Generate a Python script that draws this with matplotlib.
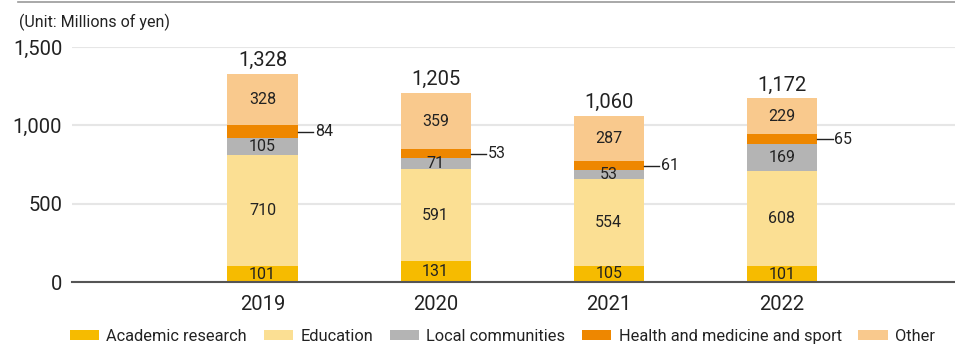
import matplotlib
matplotlib.use("Agg")
import matplotlib.pyplot as plt
from matplotlib.lines import Line2D
import numpy as np

plt.rcParams['font.family'] = ['Roboto', 'DejaVu Sans']

years = ["2019", "2020", "2021", "2022"]
series_names = ["Academic research", "Education", "Local communities",
                "Health and medicine and sport", "Other"]
academic = [101, 131, 105, 101]
education = [710, 591, 554, 608]
local = [105, 71, 53, 169]
health = [84, 53, 61, 65]
other = [328, 359, 287, 229]
totals = [1328, 1205, 1060, 1172]
colors = ["#F6BB00", "#FBDF93", "#B4B4B4", "#EE8700", "#F9C98D"]

series = [academic, education, local, health, other]

fig = plt.figure(figsize=(9.55, 3.45), dpi=100)
ax = fig.add_axes([0.0754, 0.1826, 0.9246, 0.6812])

x = np.arange(len(years))
width = 0.405
bottom = np.zeros(len(years))
text_col = "#222222"
for name, vals, col in zip(series_names, series, colors):
    vals = np.array(vals, dtype=float)
    ax.bar(x, vals, width, bottom=bottom, color=col, label=name, zorder=3)
    for i, v in enumerate(vals):
        yc = bottom[i] + v / 2
        if name == "Health and medicine and sport":
            xe = x[i] + width / 2
            ax.plot([xe, xe + 0.09], [yc, yc], color=text_col, lw=1.0,
                    zorder=4, clip_on=False)
            ax.text(xe + 0.1, yc, f"{int(v)}", ha="left", va="center",
                    fontsize=11.5, color=text_col)
        else:
            ax.text(x[i], yc, f"{int(v)}", ha="center", va="center",
                    fontsize=11.5, color=text_col, zorder=5)
    bottom += vals

for i, t in enumerate(totals):
    ax.text(x[i], bottom[i] + 25, f"{t:,}", ha="center", va="bottom",
            fontsize=14.5, color=text_col)

ax.set_xlim(-1.1, 4.0)
ax.set_ylim(0, 1500)
ax.set_yticks([0, 500, 1000, 1500])
ax.set_yticklabels(["0", "500", "1,000", "1,500"])
ax.set_xticks(x)
ax.set_xticklabels(years)
ax.tick_params(axis="both", length=0, labelsize=14.5, colors=text_col)
ax.tick_params(axis="y", pad=7)
ax.tick_params(axis="x", pad=9)
ax.grid(axis="y", color="#E6E6E6", lw=1.5, zorder=0)
for s in ["top", "right", "left"]:
    ax.spines[s].set_visible(False)
ax.spines["bottom"].set_color("#555555")
ax.spines["bottom"].set_linewidth(1.5)
ax.spines["bottom"].set_zorder(6)

fig.text(0.02, 0.935, "(Unit: Millions of yen)", fontsize=11.5,
         color=text_col, ha="left", va="center")
fig.add_artist(Line2D([0.019, 1.0], [0.994, 0.994], color="#999999", lw=1.2))

fig.legend(loc="center", bbox_to_anchor=(0.526, 0.025), ncol=5,
           frameon=False, fontsize=11.8, handlelength=1.8, handleheight=0.6,
           handletextpad=0.45, columnspacing=1.0, labelcolor=text_col)

fig.savefig("out.png", dpi=100)
